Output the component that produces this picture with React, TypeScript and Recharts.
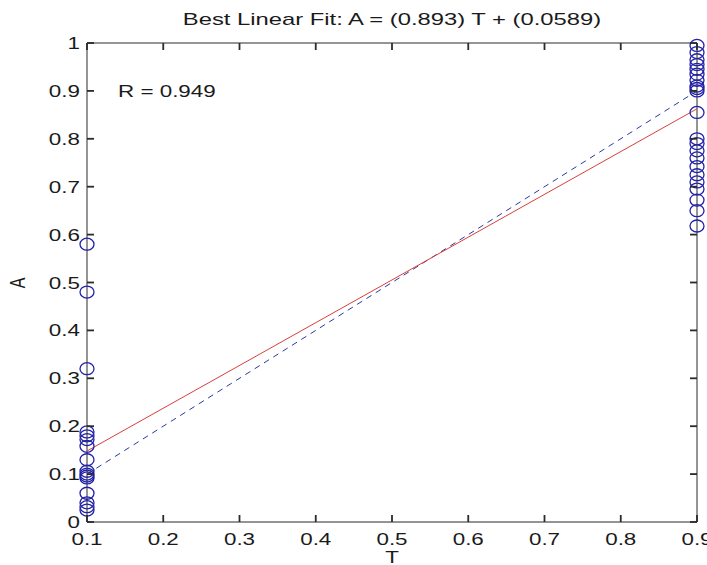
import React from 'react';
import { ComposedChart, Scatter, XAxis, YAxis } from 'recharts';

const titleText = 'Best Linear Fit:  A = (0.893) T + (0.0589)';
const rText = 'R = 0.949';
const xLabel = 'T';
const yLabel = 'A';

const xTicks = [0.1, 0.2, 0.3, 0.4, 0.5, 0.6, 0.7, 0.8, 0.9];
const yTicks = [0, 0.1, 0.2, 0.3, 0.4, 0.5, 0.6, 0.7, 0.8, 0.9, 1];

const lowTarget = 0.1;
const highTarget = 0.9;
const lowOutputs = [0.58, 0.48, 0.32, 0.188, 0.18, 0.172, 0.158, 0.13, 0.106, 0.1, 0.096, 0.092, 0.06, 0.04, 0.032, 0.025];
const highOutputs = [0.995, 0.98, 0.965, 0.955, 0.945, 0.935, 0.922, 0.91, 0.905, 0.9, 0.855, 0.8, 0.79, 0.775, 0.76, 0.742, 0.725, 0.71, 0.695, 0.672, 0.65, 0.618];

const fitT = [0.1, 0.9];
const fitA = [0.1482, 0.8626];
const idealA = [0.1, 0.9];

const points = [
  ...lowOutputs.map((a) => ({ x: lowTarget, y: a })),
  ...highOutputs.map((a) => ({ x: highTarget, y: a })),
];
const fitLine = fitT.map((t, i) => ({ x: t, y: fitA[i] }));
const idealLine = fitT.map((t, i) => ({ x: t, y: idealA[i] }));

const W = 707;
const H = 565;
const MARGIN = { top: 42, right: 9, bottom: 0, left: 0 };
const TOP_H = 1;
const RIGHT_W = 1;
const PLOT_TOP = MARGIN.top + TOP_H;
const PLOT_RIGHT = W - MARGIN.right - RIGHT_W;

const SX = 1.4;
const FONT = '"Liberation Sans", Arial, sans-serif';
const TXT = '#1a1a1a';
const AX = '#2b2b2b';
const TL = 7;
const TW = 1.8;

const fmt = (v: number) => String(Math.round(v * 10) / 10);

const StretchText = ({ x, y, anchor, size, children, rotate }: any) => (
  <text
    transform={`translate(${x},${y}) scale(${SX},1)${rotate ? ' rotate(-90)' : ''}`}
    textAnchor={anchor}
    fontFamily={FONT}
    fontSize={size}
    fill={TXT}
  >
    {children}
  </text>
);

// MATLAB-style inward ticks on all four sides, drawn from the bottom/left tick renderers.
const BottomTick = (props: any) => {
  const x = Number(props.x);
  const y = Number(props.y);
  return (
    <g>
      <rect x={x - TW / 2} y={y - TL} width={TW} height={TL} fill={AX} />
      <rect x={x - TW / 2} y={PLOT_TOP} width={TW} height={TL} fill={AX} />
      <StretchText x={x} y={y + 23} anchor="middle" size={16}>{fmt(props.payload.value)}</StretchText>
    </g>
  );
};

const LeftTick = (props: any) => {
  const x = Number(props.x);
  const y = Number(props.y);
  return (
    <g>
      <rect x={x} y={y - TW / 2} width={TL} height={TW} fill={AX} />
      <rect x={PLOT_RIGHT - TL} y={y - TW / 2} width={TL} height={TW} fill={AX} />
      <StretchText x={x - 7} y={y + 6} anchor="end" size={16}>{fmt(props.payload.value)}</StretchText>
    </g>
  );
};

const Circle = (props: any) => {
  const { cx, cy } = props;
  if (cx == null || cy == null) return null;
  return <ellipse cx={cx} cy={cy} rx={7} ry={6} fill="none" stroke="#2222a8" strokeWidth={1.3} />;
};

const NoShape = () => <g />;

const axisCommon = {
  tickSize: 0,
  tickMargin: 0,
  tickLine: false,
  axisLine: { stroke: AX, strokeWidth: 1 },
  interval: 0 as const,
};

export default function App() {
  return (
    <div style={{ position: 'absolute', left: 0, top: 0, width: W, height: H, background: '#fff' }}>
      <ComposedChart width={W} height={H} margin={MARGIN}>
        <XAxis
          xAxisId="b"
          type="number"
          dataKey="x"
          domain={[0.1, 0.9]}
          ticks={xTicks}
          orientation="bottom"
          height={43}
          tick={<BottomTick />}
          {...axisCommon}
        />
        <XAxis
          xAxisId="t"
          type="number"
          dataKey="x"
          domain={[0.1, 0.9]}
          ticks={xTicks}
          orientation="top"
          height={TOP_H}
          tick={false}
          {...axisCommon}
        />
        <YAxis
          yAxisId="l"
          type="number"
          dataKey="y"
          domain={[0, 1]}
          ticks={yTicks}
          orientation="left"
          width={87}
          tick={<LeftTick />}
          {...axisCommon}
        />
        <YAxis
          yAxisId="r"
          type="number"
          dataKey="y"
          domain={[0, 1]}
          ticks={yTicks}
          orientation="right"
          width={RIGHT_W}
          tick={false}
          {...axisCommon}
        />
        <Scatter
          xAxisId="b"
          yAxisId="l"
          data={idealLine}
          line={{ stroke: '#2a3a9e', strokeWidth: 1, strokeDasharray: '6 5' }}
          lineType="joint"
          shape={<NoShape />}
          isAnimationActive={false}
        />
        <Scatter
          xAxisId="b"
          yAxisId="l"
          data={fitLine}
          line={{ stroke: '#d8403a', strokeWidth: 1 }}
          lineType="joint"
          shape={<NoShape />}
          isAnimationActive={false}
        />
        <Scatter
          xAxisId="b"
          yAxisId="l"
          data={points}
          shape={<Circle />}
          isAnimationActive={false}
        />
        <StretchText x={392} y={25} anchor="middle" size={17}>{titleText}</StretchText>
        <StretchText x={118} y={97} anchor="start" size={16}>{rText}</StretchText>
        <StretchText x={392} y={563} anchor="middle" size={16}>{xLabel}</StretchText>
        <StretchText x={25} y={283} anchor="middle" size={16} rotate>{yLabel}</StretchText>
      </ComposedChart>
    </div>
  );
}
